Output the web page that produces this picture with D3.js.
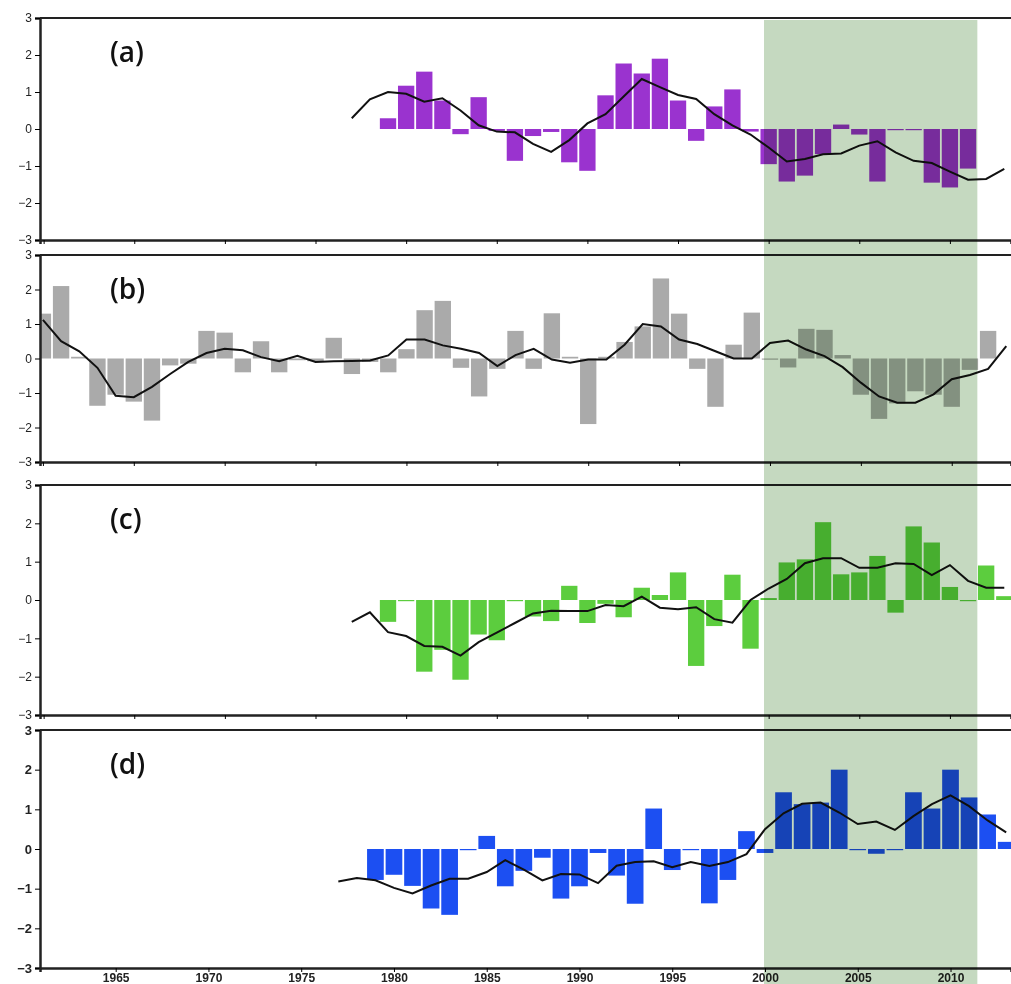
<!DOCTYPE html>
<html lang="en">
<head>
  <meta charset="UTF-8">
  <title>Anomaly panels</title>
  <script src="https://d3js.org/d3.v7.min.js"></script>
</head>
<body style="margin: 0; padding: 0; overflow: hidden; background: #fff;">
  <svg id="chart"></svg>

  <script>
    // tick labels
    const yTicks = [-3, -2, -1, 0, 1, 2, 3];
    const xTicks = [1960, 1965, 1970, 1975, 1980, 1985, 1990, 1995, 2000, 2005, 2010];
    const shadeYears = [2000, 2011.5];

    // (a) yearly bars from 1979, smoothed line from 1977
    const aBarStart = 1979;
    const aBars = [0.29, 1.17, 1.55, 0.77, -0.14, 0.86, -0.05, -0.86, -0.19, -0.08, -0.9, -1.13,
      0.91, 1.77, 1.5, 1.9, 0.77, -0.32, 0.61, 1.07, -0.07,
      -0.95, -1.42, -1.26, -0.68, 0.12, -0.15, -1.42, -0.02, -0.02, -1.45, -1.58, -1.07];
    const aLineStart = 1977;
    const aLine = [0.29, 0.8, 1.0, 0.95, 0.74, 0.83, 0.5, 0.1, -0.07, -0.09,
      -0.4, -0.62, -0.3, 0.15, 0.4, 0.88, 1.35, 1.13, 0.92, 0.81,
      0.4, 0.1, -0.15, -0.5, -0.88, -0.81, -0.68, -0.66, -0.45, -0.33,
      -0.63, -0.86, -0.92, -1.15, -1.37, -1.35, -1.08];

    // (b) yearly bars from 1960, line from 1960
    const bBarStart = 1960;
    const bBars = [1.3, 2.1, 0.05, -1.37, -1.05, -1.25, -1.8, -0.2, -0.15, 0.8,
      0.75, -0.4, 0.5, -0.4, -0.05, -0.08, 0.6, -0.45, -0.1, -0.4,
      0.27, 1.4, 1.67, -0.27, -1.1, -0.3, 0.8, -0.3, 1.31, 0.05,
      -1.9, 0.05, 0.48, 0.93, 2.32, 1.3, -0.3, -1.4, 0.4, 1.33,
      -0.03, -0.26, 0.86, 0.83, 0.1, -1.05, -1.75, -1.3, -0.95, -1.05,
      -1.4, -0.33, 0.8];
    const bLineStart = 1960;
    const bLine = [1.12, 0.5, 0.21, -0.27, -1.08, -1.12, -0.82, -0.45, -0.1, 0.16,
      0.28, 0.24, 0.04, -0.08, 0.08, -0.1, -0.08, -0.07, -0.06, 0.09,
      0.55, 0.55, 0.38, 0.28, 0.16, -0.22, 0.1, 0.28, -0.03, -0.12,
      -0.03, -0.03, 0.4, 1.0, 0.93, 0.55, 0.42, 0.21, 0, 0,
      0.45, 0.52, 0.26, 0.07, -0.25, -0.7, -1.1, -1.28, -1.28, -1.04,
      -0.6, -0.48, -0.3, 0.36];

    // (c)
    const cBarStart = 1979;
    const cBars = [-0.57, -0.02, -1.87, -1.3, -2.08, -0.9, -1.05, -0.02, -0.43, -0.55,
      0.37, -0.6, -0.1, -0.45, 0.32, 0.13, 0.72, -1.72, -0.68, 0.66,
      -1.27, 0.05, 0.98, 1.06, 2.03, 0.67, 0.72, 1.15, -0.33, 1.92,
      1.5, 0.34, -0.03, 0.9, 0.1];
    const cLineStart = 1977;
    const cLine = [-0.57, -0.32, -0.84, -0.94, -1.2, -1.22, -1.45, -1.1, -0.85, -0.6,
      -0.35, -0.28, -0.29, -0.29, -0.13, -0.16, 0.09, -0.2, -0.24, -0.19,
      -0.5, -0.59, 0.0, 0.3, 0.55, 0.96, 1.09, 1.09, 0.84, 0.84,
      0.96, 0.94, 0.65, 0.91, 0.5, 0.32, 0.32];

    // (d)
    const dBarStart = 1979;
    const dBars = [-0.78, -0.65, -0.93, -1.5, -1.66, 0.0, 0.33, -0.94, -0.55, -0.22,
      -1.25, -0.94, -0.1, -0.67, -1.38, 1.02, -0.53, -0.02, -1.37, -0.78,
      0.45, -0.1, 1.43, 1.13, 1.17, 2.0, 0.0, -0.12, -0.01, 1.43,
      1.02, 2.0, 1.3, 0.87, 0.18];
    const dLineStart = 1977;
    const dLine = [-0.82, -0.73, -0.79, -0.98, -1.12, -0.92, -0.75, -0.75, -0.58, -0.28,
      -0.52, -0.79, -0.63, -0.64, -0.86, -0.42, -0.33, -0.31, -0.46, -0.33,
      -0.43, -0.33, -0.13, 0.5, 0.9, 1.14, 1.17, 0.92, 0.63, 0.69,
      0.48, 0.83, 1.13, 1.35, 1.08, 0.72, 0.42];

    const W = 1011, H = 984;
    const left = 40, right = 1011;

    const panels = [
      { label: "(a)", top: 18, bottom: 240, x0: 1959.8, x1: 2013.37, color: "#9a33cf",
        bars: aBars, barStart: aBarStart, line: aLine, lineStart: aLineStart, xLabels: false, bold: false },
      { label: "(b)", top: 255, bottom: 462, x0: 1959.84, x1: 2013.26, color: "#aaaaaa",
        bars: bBars, barStart: bBarStart, line: bLine, lineStart: bLineStart, xLabels: false, bold: false },
      { label: "(c)", top: 485, bottom: 715, x0: 1959.8, x1: 2013.37, color: "#5ccd3e",
        bars: cBars, barStart: cBarStart, line: cLine, lineStart: cLineStart, xLabels: false, bold: false },
      { label: "(d)", top: 730, bottom: 968, x0: 1960.92, x1: 2013.26, color: "#1c4ff2",
        bars: dBars, barStart: dBarStart, line: dLine, lineStart: dLineStart, xLabels: true, bold: true }
    ];

    const svg = d3.select("#chart").attr("width", W).attr("height", H);

    panels.forEach(p => {
      const x = d3.scaleLinear().domain([p.x0, p.x1]).range([left, right]);
      const y = d3.scaleLinear().domain([-3, 3]).range([p.bottom, p.top]);
      const g = svg.append("g");
      const bw = (x(1) - x(0)) * 0.9;

      const clipId = "clip" + p.label.replace(/\W/g, "");
      svg.append("clipPath").attr("id", clipId)
        .append("rect").attr("x", left).attr("y", p.top).attr("width", right - left).attr("height", p.bottom - p.top);

      const plot = g.append("g").attr("clip-path", `url(#${clipId})`);

      plot.selectAll("rect.bar")
        .data(p.bars.map((v, i) => ({ yr: p.barStart + i, v })))
        .enter()
        .append("rect")
        .attr("class", "bar")
        .attr("x", d => x(d.yr) - bw / 2)
        .attr("width", bw)
        .attr("y", d => Math.min(y(d.v), y(0)))
        .attr("height", d => Math.max(Math.abs(y(d.v) - y(0)), 1.2))
        .attr("fill", p.color);

      const line = d3.line().x(d => x(d.yr)).y(d => y(d.v));
      plot.append("path")
        .datum(p.line.map((v, i) => ({ yr: p.lineStart + i, v })))
        .attr("d", line)
        .attr("fill", "none")
        .attr("stroke", "#111")
        .attr("stroke-width", 2);

      // frame: top, left, bottom
      g.append("line").attr("x1", left).attr("x2", right).attr("y1", p.top).attr("y2", p.top)
        .attr("stroke", "#222").attr("stroke-width", 2);

      const yAxis = g.append("g")
        .attr("transform", `translate(${left},0)`)
        .call(d3.axisLeft(y).tickValues(yTicks).tickSize(5).tickFormat(d3.format("d")));
      yAxis.select(".domain").attr("stroke", "#222").attr("stroke-width", 2.5);
      yAxis.selectAll("text")
        .style("font-family", "'Liberation Sans', Arial, sans-serif")
        .style("font-size", p.bold ? "13px" : "12px")
        .style("font-weight", p.bold ? "bold" : "normal")
        .attr("fill", "#222");

      const ticksIn = xTicks.filter(t => t >= p.x0 && t <= p.x1);
      const xAxis = g.append("g")
        .attr("transform", `translate(0,${p.bottom})`)
        .call(d3.axisBottom(x).tickValues(ticksIn).tickSize(4)
          .tickFormat(p.xLabels ? d3.format("d") : ""));
      xAxis.select(".domain").attr("stroke", "#222").attr("stroke-width", 2.5);
      xAxis.selectAll("text")
        .attr("y", 5)
        .style("font-family", "'Liberation Sans', Arial, sans-serif")
        .style("font-size", "12px")
        .style("font-weight", "bold")
        .attr("dy", "0.71em")
        .attr("fill", "#222");

      g.append("text")
        .attr("x", 110)
        .attr("y", p.top + 44)
        .text(p.label)
        .style("font-family", "'Open Sans', sans-serif")
        .style("font-size", "28px")
        .style("font-weight", "600")
        .attr("fill", "#111");
    });

    // shaded period across all panels
    const xs = d3.scaleLinear().domain([1960.92, 2013.26]).range([left, right]);
    svg.append("rect")
      .attr("x", xs(shadeYears[0]) - 1)
      .attr("width", xs(shadeYears[1]) - xs(shadeYears[0]))
      .attr("y", 20)
      .attr("height", H - 20)
      .attr("fill", "#c5d9c0")
      .style("mix-blend-mode", "multiply");
  </script>
</body>
</html>
